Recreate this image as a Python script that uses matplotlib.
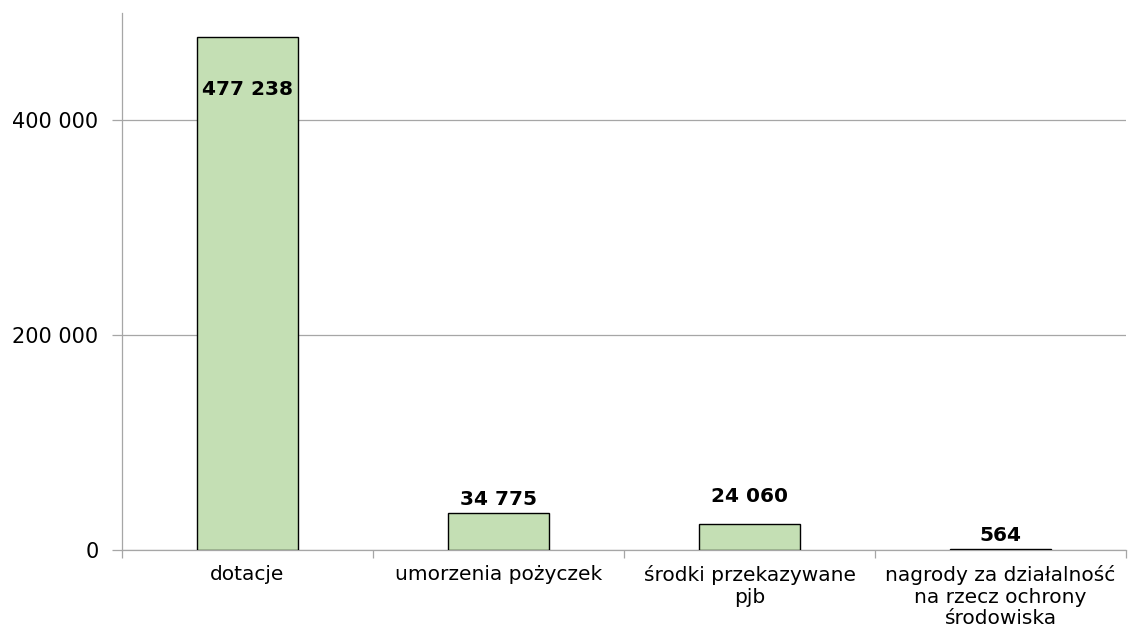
import matplotlib
matplotlib.use("Agg")
import matplotlib.pyplot as plt

categories = ["dotacje", "umorzenia pożyczek", "środki przekazywane\npjb",
              "nagrody za działalność\nna rzecz ochrony\nśrodowiska"]
values = [477238, 34775, 24060, 564]
value_labels = ["477 238", "34 775", "24 060", "564"]
yticks = [0, 200000, 400000]
ytick_labels = ["0", "200 000", "400 000"]

plt.rcParams['font.family'] = ['DejaVu Sans']

fig = plt.figure(figsize=(11.29, 6.29), dpi=100)
ax = fig.add_axes([122/1129, 79/629, 1004/1129, 537.5/629])

x = list(range(len(categories)))
ax.bar(x, values, width=0.40, color="#C4DFB4", edgecolor="black", linewidth=1.0, zorder=3)

ax.set_xlim(-0.5, len(categories) - 0.5)
ax.set_ylim(0, 500000)
ax.set_yticks(yticks)
ax.set_yticklabels(ytick_labels, fontsize=15)
ax.yaxis.grid(True, color="#A6A6A6", linewidth=0.9, zorder=0)
ax.set_xticks(x)
ax.set_xticklabels(categories, fontsize=14.5, linespacing=1.16)
ax.set_xticks([i - 0.5 for i in range(len(categories) + 1)], minor=True)
ax.tick_params(axis='x', which='major', length=0, pad=11)
ax.tick_params(axis='x', which='minor', length=6, color="#A6A6A6", width=0.9)
ax.tick_params(axis='y', length=7, color="#A6A6A6", width=0.9, pad=10)

for s in ["top", "right"]:
    ax.spines[s].set_visible(False)
for s in ["left", "bottom"]:
    ax.spines[s].set_color("#A6A6A6")
    ax.spines[s].set_linewidth(0.9)

# label offsets in points relative to bar top
offsets = [-38, 9.5, 20, 10]
for xi, v, lab, off in zip(x, values, value_labels, offsets):
    ax.annotate(lab, (xi, v), xytext=(0, off), textcoords="offset points",
                ha="center", va="center", fontsize=14.5, fontweight="bold", zorder=4)

fig.savefig("out.png", dpi=100)
